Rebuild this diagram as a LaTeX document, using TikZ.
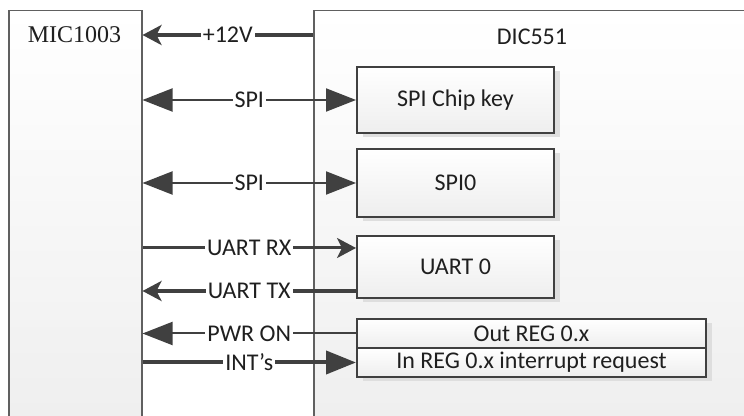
\documentclass[tikz,border=0pt]{standalone}
\usepackage{fontspec}
\setmainfont{Carlito}
\newfontfamily\micserif{Liberation Serif}
\usetikzlibrary{arrows.meta}
\usetikzlibrary{shadows}
\definecolor{linegray}{RGB}{64,64,64}
\definecolor{framegray}{RGB}{96,96,96}
\definecolor{boxgray}{RGB}{238,238,238}
\definecolor{shadowgray}{RGB}{222,222,222}
\newcommand{\drawsig}{\draw[sig]}
\newcommand{\drawbus}{\draw[bus]}

\begin{document}
\begin{tikzpicture}[x=0.5pt, y=-0.5pt,
    every node/.style={font=\fontsize{12}{14}\selectfont, text=black!88},
    outerbox/.style={draw=framegray, line width=0.75pt, top color=white, bottom color=boxgray, anchor=north west, inner sep=0pt},
    block/.style={draw=linegray, line width=1pt, top color=white, bottom color=boxgray, inner sep=0pt, minimum width=98.5pt,
        drop shadow={shadow xshift=3pt, shadow yshift=-2pt, fill=shadowgray, opacity=1}},
    sig/.style={draw=linegray, line width=1pt},
    bus/.style={draw=linegray, line width=2pt},
    tri/.tip={Triangle[length=15pt, width=11.5pt]},
    stl/.tip={Stealth[length=9.5pt, width=10pt, inset=2.5pt]},
    tag/.style={midway, fill=white, inner sep=1pt}]
    \useasboundingbox (0,0) rectangle (744,416);

    % Draw the two boards
    \node[outerbox, minimum width=66.5pt, minimum height=215pt] (mic) at (8,10) {};
    \node[outerbox, minimum width=230pt, minimum height=215pt] (dic) at (313,10) {};
    \node[font=\micserif\fontsize{12}{14}\selectfont] (mictitle) at (74.5,35) {MIC1003};
    \node (dictitle) at (532,37) {DIC551};

    % Draw blocks inside DIC551
    \node[block, minimum height=33pt] (chipkey) at (455.5,100) {SPI Chip key};
    \node[block, minimum height=34pt] (spizero) at (455.5,183) {SPI0};
    \node[block, minimum height=31pt] (uartzero) at (455.5,267) {UART 0};
    \node[block, minimum width=174.5pt, minimum height=14.5pt] (outreg) at (531.5,333.5) {Out REG 0.x};
    \node[block, minimum width=174.5pt, minimum height=14.5pt] (inreg) at (531.5,362.5) {In REG 0.x interrupt request};

    % Draw signals
    \coordinate (rx) at (0,248);
    \coordinate (tx) at (0,291);

    \drawbus[-stl] (dic.north west |- mictitle) -- (mic.north east |- mictitle) node[tag] {+12V};
    \drawsig[tri-tri] (mic.north east |- chipkey.west) -- (chipkey.west) node[tag] {SPI};
    \drawsig[tri-tri] (mic.north east |- spizero.west) -- (spizero.west) node[tag] {SPI};
    \drawsig[-stl, line width=1.5pt] (mic.north east |- rx) -- (uartzero.west |- rx) node[tag] {UART RX};
    \drawbus[-stl] (uartzero.west |- tx) -- (mic.north east |- tx) node[tag] {UART TX};
    \drawsig[-tri] (outreg.west) -- (mic.north east |- outreg.west) node[tag] {PWR ON};
    \drawbus[-tri] (mic.north east |- inreg.west) -- (inreg.west) node[tag] {INT’s};
\end{tikzpicture}
\end{document}
